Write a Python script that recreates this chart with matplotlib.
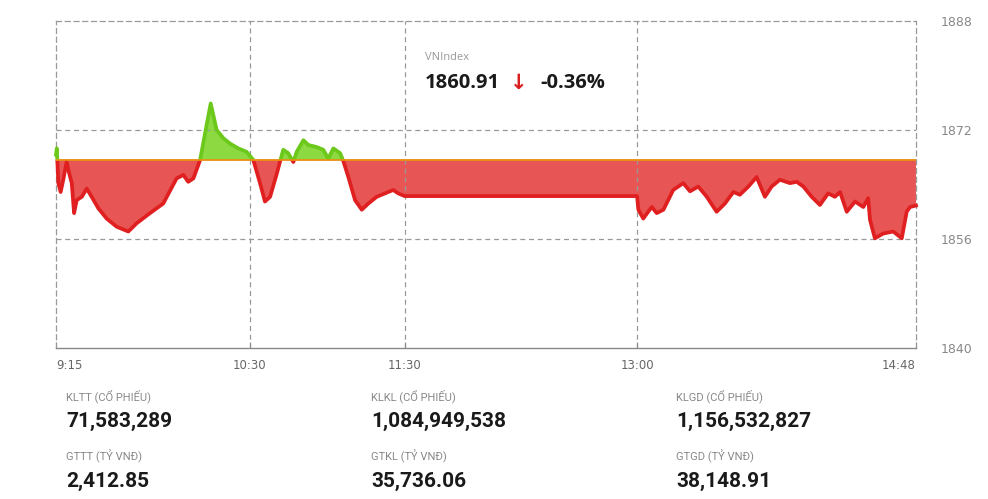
import numpy as np
import matplotlib.pyplot as plt
from matplotlib.patches import Rectangle

# minutes after 9:15 and VNIndex value
minutes = [0, 0.3, 0.5, 0.9, 1.8, 2.8, 4.1, 4.8, 6.1, 7.0, 8.0, 10.0, 11.9, 13.8, 16.4,
           19.6, 23.5, 28.0, 31.2, 36.4, 41.5, 46.7, 49.3, 51.2, 53.2, 55.8, 57.7, 59.9,
           62.2, 64.8, 67.4, 70.6, 73.8, 76.4, 79.0, 80.9, 82.9, 85.5, 86.7, 88.0, 89.9,
           91.9, 93.2, 95.8, 97.7, 100.9, 103.5, 105.4, 107.4, 110.0, 111.2, 113.2, 115.8,
           118.4, 120.9, 124.2, 127.4, 130.6, 132.5, 135.0, 225.0, 225.5, 227.4, 229.3,
           230.7, 232.6, 235.2, 239.0, 242.9, 245.5, 248.7, 252.0, 255.8, 259.0, 262.3,
           264.8, 268.1, 271.3, 274.5, 277.1, 280.3, 284.2, 286.8, 289.4, 292.6, 295.8,
           299.0, 301.6, 303.6, 306.2, 309.4, 312.6, 314.5, 315.2, 317.1, 320.3, 324.2,
           327.5, 329.4, 330.7, 333.0]
index = [1868.4, 1869.3, 1867.6, 1864.2, 1862.9, 1864.7, 1867.3, 1866.1, 1864.2, 1859.8,
         1861.7, 1862.2, 1863.4, 1862.2, 1860.5, 1859.0, 1857.8, 1857.1, 1858.3, 1859.8,
         1861.2, 1864.9, 1865.4, 1864.4, 1864.9, 1867.6, 1871.5, 1875.9, 1872.0, 1870.8,
         1870.0, 1869.3, 1868.8, 1867.6, 1864.2, 1861.5, 1862.2, 1865.6, 1867.3, 1869.1,
         1868.6, 1867.3, 1868.8, 1870.5, 1869.8, 1869.5, 1869.1, 1867.8, 1869.3, 1868.6,
         1867.5, 1865.1, 1861.7, 1860.3, 1861.2, 1862.2, 1862.7, 1863.2, 1862.7, 1862.3,
         1862.3, 1860.3, 1859.0, 1860.0, 1860.7, 1859.8, 1860.3, 1863.2, 1864.2, 1863.0,
         1863.7, 1862.2, 1860.0, 1861.2, 1862.9, 1862.5, 1863.7, 1865.1, 1862.2, 1863.7,
         1864.7, 1864.2, 1864.4, 1863.7, 1862.2, 1861.0, 1862.7, 1862.2, 1862.9, 1860.0,
         1861.5, 1860.7, 1862.0, 1858.8, 1856.1, 1856.8, 1857.1, 1856.1, 1860.0, 1860.7,
         1860.91]
ref_close = 1867.63

tick_pos = [0, 75, 135, 225, 333]
tick_labels = ["9:15", "10:30", "11:30", "13:00", "14:48"]
y_ticks = [1840, 1856, 1872, 1888]

stat_labels = [["KLTT (CỔ PHIẾU)", "KLKL (CỔ PHIẾU)", "KLGD (CỔ PHIẾU)"],
               ["GTTT (TỶ VNĐ)", "GTKL (TỶ VNĐ)", "GTGD (TỶ VNĐ)"]]
stat_values = [["71,583,289", "1,084,949,538", "1,156,532,827"],
               ["2,412.85", "35,736.06", "38,148.91"]]

x = np.array(minutes)
y = np.array(index)

fig = plt.figure(figsize=(9.88, 4.99), dpi=100)
ax = fig.add_axes([0.0567, 0.3026, 0.8704, 0.6553])
ax.set_xlim(0, 333)
ax.set_ylim(1840, 1888)

red_line = "#e02020"
red_fill = "#e85555"
green_line = "#6cc81a"
green_fill = "#8cd942"

ax.fill_between(x, y, ref_close, where=y <= ref_close, interpolate=True,
                color=red_fill, lw=0)
ax.fill_between(x, y, ref_close, where=y >= ref_close, interpolate=True,
                color=green_fill, lw=0)

# line coloured by side of the reference
for col, lo, hi in [(red_line, 1830, ref_close), (green_line, ref_close, 1900)]:
    ln, = ax.plot(x, y, color=col, lw=2.7, solid_joinstyle="round", zorder=4)
    r = Rectangle((-10, lo), 400, hi - lo, transform=ax.transData)
    ln.set_clip_path(r)

ax.axhline(ref_close, color="#e8900f", lw=1.3, zorder=5)

# grid and frame
for v in [1856, 1872]:
    ax.axhline(v, color="#999999", lw=0.9, ls=(0, (4, 3)), zorder=1)
for t in [75, 135, 225]:
    ax.axvline(t, color="#999999", lw=0.9, ls=(0, (4, 3)), zorder=1)
for s in ["left", "right", "top"]:
    ax.spines[s].set_linestyle((0, (4, 3)))
    ax.spines[s].set_color("#999999")
    ax.spines[s].set_linewidth(0.9)
ax.spines["bottom"].set_color("#888888")
ax.spines["bottom"].set_linewidth(1.0)

ax.set_xticks(tick_pos)
ax.set_xticklabels(tick_labels)
ax.tick_params(axis="x", direction="in", length=4, color="#888888",
               labelsize=8.5, labelcolor="#666666", pad=8)
xl = ax.get_xticklabels()
xl[0].set_ha("left")
xl[-1].set_ha("right")
ax.yaxis.tick_right()
ax.set_yticks(y_ticks)
ax.tick_params(axis="y", length=0, labelsize=9, labelcolor="#888888", pad=18)

# index box
fig.text(425 / 988, 1 - 58 / 499, "VNIndex", fontsize=8, color="#999999",
         family="Open Sans", va="center")
fig.text(425 / 988, 1 - 83 / 499, "1860.91", fontsize=14.5, color="#1a1a1a",
         family="Open Sans", weight="bold", va="center")
fig.text(519 / 988, 1 - 83 / 499, "↓", fontsize=15, color="#d81e1e",
         family="DejaVu Sans", weight="bold", va="center", ha="center")
fig.text(540 / 988, 1 - 83 / 499, "-0.36%", fontsize=14.5, color="#1a1a1a",
         family="Open Sans", weight="bold", va="center")

# statistics below the chart
col_x = [66, 371, 676]
row_y = [(396, 421), (456, 481)]
for r in range(2):
    for c in range(3):
        fig.text(col_x[c] / 988, 1 - row_y[r][0] / 499, stat_labels[r][c],
                 fontsize=8, color="#888888", family="Roboto", va="center")
        fig.text(col_x[c] / 988, 1 - row_y[r][1] / 499, stat_values[r][c],
                 fontsize=15, color="#1a1a1a", family="Roboto", weight="bold",
                 va="center")

fig.savefig("out.png", dpi=100)
